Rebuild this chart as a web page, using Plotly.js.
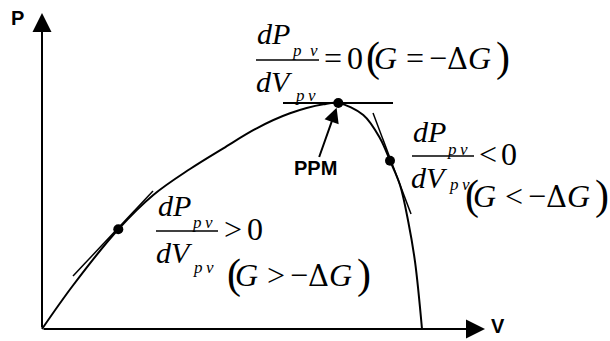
<!DOCTYPE html>
<html>
<head>
<meta charset="utf-8">
<script src="https://cdn.plot.ly/plotly-3.0.1.min.js"></script>
<style>html,body{margin:0;padding:0;background:#fff;}</style>
</head>
<body>
<div id="chart" style="width:610px;height:341px;"></div>
<script>
// P-V curve (normalised units: V / Voc, P / Pmax)
const voltage = [0, 0.0824, 0.2008, 0.2929, 0.3895, 0.4771, 0.5650, 0.6526, 0.7403, 0.7797, 0.8455, 0.8895, 0.9158, 0.9421, 0.9639, 0.9816, 1.0];
const power   = [0, 0.1947, 0.4412, 0.5929, 0.7080, 0.7996, 0.8881, 0.9544, 0.9942, 1.0, 0.9469, 0.8438, 0.7447, 0.6372, 0.4748, 0.2978, 0];
// operating points (left of MPP, MPP, right of MPP)
const pointV = [0.2008, 0.7797, 0.9158];
const pointP = [0.4412, 1.0, 0.7447];
// tangent segments
const tangentLeftV  = [0.0816, 0.2921];
const tangentLeftP  = [0.2345, 0.6106];
const tangentTopV   = [0.6342, 0.9237];
const tangentTopP   = [1.0, 1.0];
const tangentRightV = [0.8711, 0.9711];
const tangentRightP = [0.9558, 0.5088];
// axis extents (arrow tips)
const axisEndV = 1.1658;
const axisEndP = 1.398;
// labels
const axisLabels = ['P', 'V'];
const mppLabel = 'PPM';

const W = 610, H = 341;
const fx = px => px / W;
const fy = py => 1 - py / H;
const serif = 'Liberation Serif';
const dejavu = 'DejaVu Serif';
const sans = 'Liberation Sans';
const DESC = {'Liberation Serif': 0.216, 'DejaVu Serif': 0.236, 'Liberation Sans': 0.212};
const FR = 30, SUB = 17, EQ = 32, PAR = 42, DEL = 29;

const traces = [
  {x: voltage, y: power, mode: 'lines', line: {color: '#000', width: 2, shape: 'spline', smoothing: 1}, hoverinfo: 'skip'},
  {x: tangentLeftV, y: tangentLeftP, mode: 'lines', line: {color: '#000', width: 1.5}, hoverinfo: 'skip'},
  {x: tangentTopV, y: tangentTopP, mode: 'lines', line: {color: '#000', width: 2}, hoverinfo: 'skip'},
  {x: tangentRightV, y: tangentRightP, mode: 'lines', line: {color: '#000', width: 1.5}, hoverinfo: 'skip'},
  {x: pointV, y: pointP, mode: 'markers', marker: {color: '#000', size: 10}, hoverinfo: 'skip'}
];

// glyph placed by its left edge and baseline (pixels)
function g(px, base, text, size, italic, family, bold) {
  const fam = family || serif;
  return {xref: 'paper', yref: 'paper', x: fx(px), y: fy(base + DESC[fam] * size), text: text, showarrow: false,
          xanchor: 'left', yanchor: 'bottom', borderpad: 0, borderwidth: 0,
          font: {family: fam, size: size, color: '#000', style: italic ? 'italic' : 'normal', weight: bold ? 'bold' : 'normal'}};
}
const MINUS = '\u2212', DELTA = '\u0394';

// "(G op −ΔG)" with its opening parenthesis at x0 and the G baseline at b
function cond(x0, b, op) {
  return [
    g(x0, b + 3, '(', PAR), g(x0 + 8, b, 'G', EQ, true),
    g(x0 + 40, b, op, EQ), g(x0 + 63, b, MINUS, EQ), g(x0 + 81, b, DELTA, DEL, false, dejavu),
    g(x0 + 102, b, 'G', EQ, true), g(x0 + 130, b + 3, ')', PAR)
  ];
}

const annotations = [
  // axes with arrowheads
  {x: axisEndV, y: 0, ax: 0, ay: 0, axref: 'x', ayref: 'y', xref: 'x', yref: 'y', text: '', showarrow: true,
   arrowhead: 2, arrowsize: 1.9, arrowwidth: 2, arrowcolor: '#000', standoff: 0, startstandoff: 0},
  {x: 0, y: axisEndP, ax: 0, ay: 0, axref: 'x', ayref: 'y', xref: 'x', yref: 'y', text: '', showarrow: true,
   arrowhead: 2, arrowsize: 1.9, arrowwidth: 2, arrowcolor: '#000', standoff: 0, startstandoff: 0},
  g(11, 25, axisLabels[0], 20, false, sans, true),
  g(491, 333, axisLabels[1], 20, false, sans, true),
  // MPP pointer
  {x: pointV[1], y: pointP[1], xref: 'x', yref: 'y', ax: -23, ay: 65, text: mppLabel, showarrow: true,
   arrowhead: 2, arrowsize: 1.5, arrowwidth: 2, arrowcolor: '#000', standoff: 5, borderpad: 0, borderwidth: 0,
   font: {family: sans, size: 20, color: '#000', weight: 'bold'}},

  // top formula: dPpv/dVpv = 0 (G = -ΔG)
  g(257, 44, 'dP', FR, true), g(292, 56, 'p\u2002v', SUB, true),
  g(256, 92, 'dV', FR, true), g(295, 101, 'p\u2009v', SUB, true),
  g(324, 69, '=', EQ), g(347, 69, '0', EQ),
  ...cond(366, 69, '='),

  // right formula: dPpv/dVpv < 0 (G < -ΔG)
  g(413, 142, 'dP', FR, true), g(447, 155, 'p\u2009v', SUB, true),
  g(411, 188, 'dV', FR, true), g(449, 190, 'p\u2009v', SUB, true),
  g(479, 165, '&lt;', EQ), g(501, 165, '0', EQ),
  ...cond(465, 207, '&lt;'),

  // left formula: dPpv/dVpv > 0 (G > -ΔG)
  g(158, 216, 'dP', FR, true), g(192, 228, 'p\u2009v', SUB, true),
  g(156, 263, 'dV', FR, true), g(193, 273, 'p\u2009v', SUB, true),
  g(224, 240, '&gt;', EQ), g(247, 240, '0', EQ),
  ...cond(227, 286, '&gt;')
];

const shapes = [
  {type: 'line', xref: 'paper', yref: 'paper', x0: fx(256), x1: fx(319), y0: fy(60), y1: fy(60), line: {color: '#000', width: 1.3}},
  {type: 'line', xref: 'paper', yref: 'paper', x0: fx(412), x1: fx(474), y0: fy(156), y1: fy(156), line: {color: '#000', width: 1.3}},
  {type: 'line', xref: 'paper', yref: 'paper', x0: fx(156), x1: fx(218), y0: fy(231), y1: fy(231), line: {color: '#000', width: 1.3}}
];

const layout = {
  width: W, height: H,
  margin: {l: 0, r: 0, t: 0, b: 0},
  paper_bgcolor: '#fff', plot_bgcolor: '#fff',
  showlegend: false,
  xaxis: {range: [-42 / 380, 568 / 380], visible: false, fixedrange: true},
  yaxis: {range: [-12 / 226, 329 / 226], visible: false, fixedrange: true},
  annotations: annotations,
  shapes: shapes
};

Plotly.newPlot('chart', traces, layout, {staticPlot: true, displayModeBar: false});
</script>
</body>
</html>
